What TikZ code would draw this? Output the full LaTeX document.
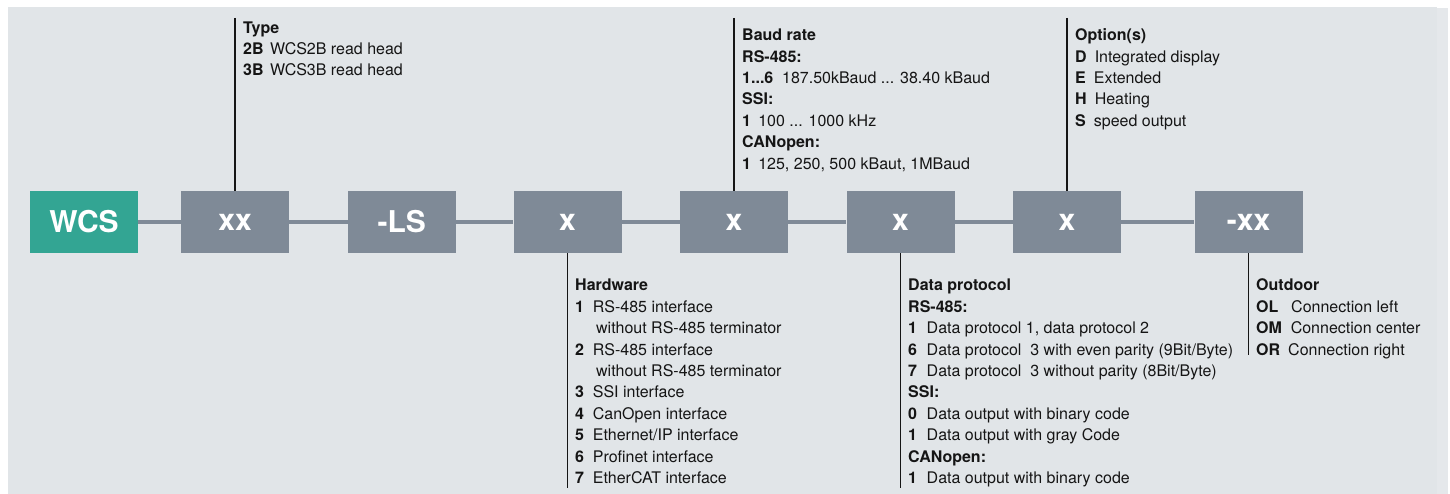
\documentclass[tikz,border=0pt]{standalone}
\usepackage{fontspec}
\setmainfont{TeX Gyre Heros}
\definecolor{panel}{HTML}{E1E5E8}
\definecolor{panelR}{HTML}{E5E8EB}
\definecolor{boxgray}{HTML}{7F8A97}
\definecolor{teal}{HTML}{33A593}
\definecolor{ink}{HTML}{151515}
\newcommand\kv[3]{\textbf{#1}\hspace{#2}#3}
\begin{document}
\begin{tikzpicture}[x=1pt,y=-1pt,
  codebox/.style={draw=none,fill=boxgray,minimum width=108pt,minimum height=62pt,inner sep=0pt,
    text=white,font=\fontsize{30}{34}\selectfont\bfseries},
  headbox/.style={codebox,fill=teal},
  link/.style={draw=boxgray,line width=3.3pt},
  lead/.style={draw=ink,line width=1.5pt},
  info/.style={anchor=north west,inner sep=0pt,text=ink,font=\fontsize{16}{21.4}\selectfont}]
\useasboundingbox (0,0) rectangle (1450,494);
\fill[white] (0,0) rectangle (1450,494);
\fill[panel] (8,7) rectangle (1437,494);
\fill[panelR] (1437,8) rectangle (1448,494);
% boxes
\node[headbox] (wcs) at (84,222) {WCS};
\node[codebox] (type) at (235,222) {xx};
\node[codebox] (ls) at (401.7,222) {-LS};
\node[codebox] (hw) at (567.5,222) {x};
\node[codebox] (baud) at (734,222) {x};
\node[codebox] (data) at (900.5,222) {x};
\node[codebox] (opt) at (1067,222) {x};
\node[codebox] (out) at (1248.5,222) {-xx};
% links
\draw[link] (wcs.east) -- (type.west);
\draw[link] (type.east) -- (ls.west);
\draw[link] (ls.east) -- (hw.west);
\draw[link] (hw.east) -- (baud.west);
\draw[link] (baud.east) -- (data.west);
\draw[link] (data.east) -- (opt.west);
\draw[link] (opt.east) -- (out.west);
% lead line ends
\coordinate (typeT) at (235,18);
\coordinate (baudT) at (734,18);
\coordinate (optT) at (1067,18);
\coordinate (hwB) at (567.5,488);
\coordinate (dataB) at (900.5,488);
\coordinate (outB) at (1248.5,355);
\draw[lead] (typeT) -- (type.north);
\draw[lead] (baudT) -- (baud.north);
\draw[lead] (optT) -- (opt.north);
\draw[lead] (hw.south) -- (hwB);
\draw[lead] (data.south) -- (dataB);
\draw[lead] (out.south) -- (outB);
% texts
\node[info] (typetxt) at (243,18) {\begin{tabular}{@{}l@{}}
\textbf{Type}\\
\kv{2B}{0.4em}{WCS2B read head}\\
\kv{3B}{0.4em}{WCS3B read head}
\end{tabular}};
\node[info] (baudtxt) at (742,25.5) {\begin{tabular}{@{}l@{}}
\textbf{Baud rate}\\
\textbf{RS-485:}\\
\kv{1...6}{0.55em}{187.50kBaud ... 38.40 kBaud}\\
\textbf{SSI:}\\
\kv{1}{0.45em}{100 ... 1000 kHz}\\
\textbf{CANopen:}\\
\kv{1}{0.45em}{125, 250, 500 kBaut, 1MBaud}
\end{tabular}};
\node[info] (opttxt) at (1075,25.5) {\begin{tabular}{@{}l@{}}
\textbf{Option(s)}\\
\kv{D}{0.5em}{Integrated display}\\
\kv{E}{0.5em}{Extended}\\
\kv{H}{0.5em}{Heating}\\
\kv{S}{0.5em}{speed output}
\end{tabular}};
\node[info] (hwtxt) at (575,275.7) {\begin{tabular}{@{}l@{}}
\textbf{Hardware}\\
\kv{1}{0.55em}{RS-485 interface}\\
\hspace{1.31em}without RS-485 terminator\\
\kv{2}{0.55em}{RS-485 interface}\\
\hspace{1.31em}without RS-485 terminator\\
\kv{3}{0.55em}{SSI interface}\\
\kv{4}{0.55em}{CanOpen interface}\\
\kv{5}{0.55em}{Ethernet/IP interface}\\
\kv{6}{0.55em}{Profinet interface}\\
\kv{7}{0.55em}{EtherCAT interface}
\end{tabular}};
\node[info] (datatxt) at (908,275.7) {\begin{tabular}{@{}l@{}}
\textbf{Data protocol}\\
\textbf{RS-485:}\\
\kv{1}{0.6em}{Data protocol 1, data protocol 2}\\
\kv{6}{0.6em}{Data protocol\ \ 3 with even parity (9Bit/Byte)}\\
\kv{7}{0.6em}{Data protocol\ \ 3 without parity (8Bit/Byte)}\\
\textbf{SSI:}\\
\kv{0}{0.6em}{Data output with binary code}\\
\kv{1}{0.6em}{Data output with gray Code}\\
\textbf{CANopen:}\\
\kv{1}{0.6em}{Data output with binary code}
\end{tabular}};
\node[info] (outtxt) at (1256,275.7) {\begin{tabular}{@{}l@{}}
\textbf{Outdoor}\\
\kv{OL}{0.8em}{Connection left}\\
\kv{OM}{0.55em}{Connection center}\\
\kv{OR}{0.5em}{Connection right}
\end{tabular}};
\end{tikzpicture}
\end{document}
